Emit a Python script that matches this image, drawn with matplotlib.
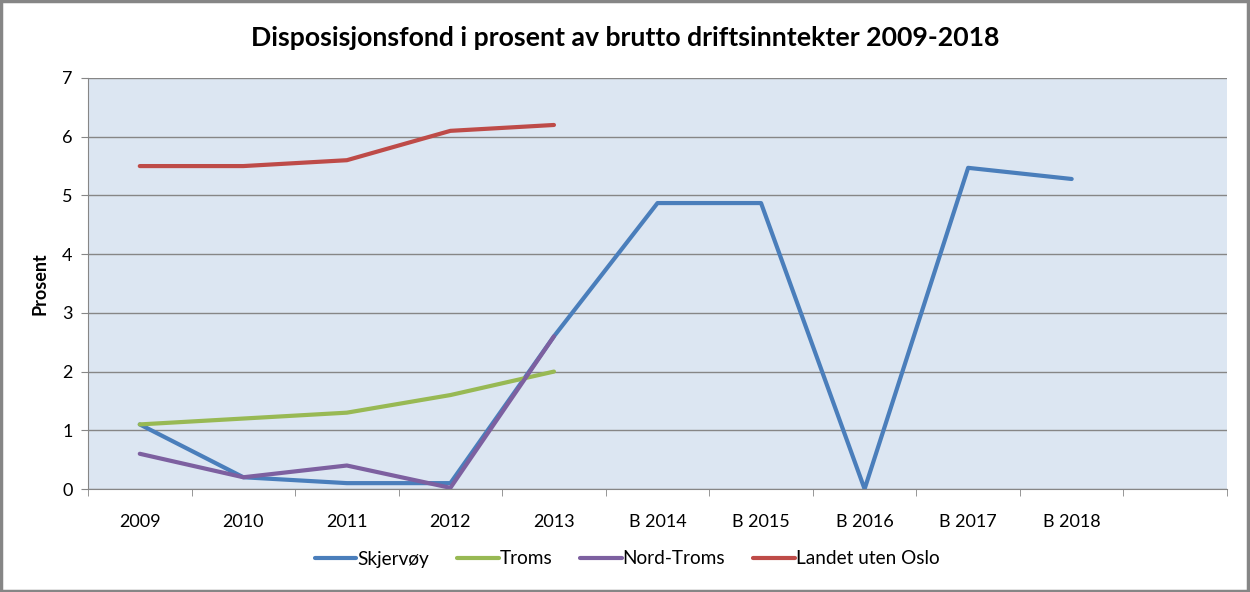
import matplotlib

matplotlib.use("Agg")
import matplotlib.pyplot as plt
import numpy as np

# ---- data ----
categories = ["2009", "2010", "2011", "2012", "2013",
              "B 2014", "B 2015", "B 2016", "B 2017", "B 2018"]
skjervoy = [1.1, 0.2, 0.1, 0.1, 2.6, 4.87, 4.87, 0.0, 5.47, 5.28]
troms = [1.1, 1.2, 1.3, 1.6, 2.0]
nord_troms = [0.6, 0.2, 0.4, 0.02, 2.6]
landet = [5.5, 5.5, 5.6, 6.1, 6.2]

series = [
    ("Skjervøy", skjervoy, "#4a7ebb"),
    ("Troms", troms, "#98b954"),
    ("Nord-Troms", nord_troms, "#7d60a0"),
    ("Landet uten Oslo", landet, "#be4b48"),
]

plt.rcParams["font.family"] = ["Lato", "DejaVu Sans"]

fig = plt.figure(figsize=(12.5, 5.92), dpi=100)
ax = fig.add_axes([88 / 1250, 1 - 489 / 592, (1227 - 88) / 1250, (489 - 78) / 592])
ax.set_facecolor("#dce6f2")

n_slots = len(categories) + 1  # empty slot at the right, as in the source
for name, vals, color in series:
    ax.plot(np.arange(len(vals)), vals, color=color, linewidth=3,
            solid_joinstyle="round", solid_capstyle="round", label=name)

ax.set_xlim(-0.5, n_slots - 0.5)
ax.set_ylim(0, 7)
ax.set_yticks(range(0, 8))
ax.tick_params(axis="y", length=5, color="#868686", labelsize=13, pad=6)
ax.set_xticks(np.arange(len(categories)))
ax.set_xticklabels(categories, fontsize=13)
ax.set_xticks(np.arange(n_slots + 1) - 0.5, minor=True)
ax.tick_params(axis="x", which="major", length=0, pad=18)
ax.tick_params(axis="x", which="minor", length=5, color="#868686")
ax.grid(axis="y", color="#868686", linewidth=1)
ax.set_axisbelow(True)
for side in ("top", "right"):
    ax.spines[side].set_visible(False)
for side in ("left", "bottom"):
    ax.spines[side].set_color("#868686")
    ax.spines[side].set_zorder(3)

ax.set_ylabel("Prosent", fontsize=13, fontweight="bold", labelpad=10)
fig.text(0.5, 1 - 38 / 592, "Disposisjonsfond i prosent av brutto driftsinntekter 2009-2018",
         ha="center", va="center", fontsize=19.2, fontweight="bold")

fig.legend(loc="center", bbox_to_anchor=(627 / 1250, 1 - 559 / 592), ncol=4,
           frameon=False, fontsize=13.7, handlelength=2.2, handletextpad=0.05,
           columnspacing=1.45)

# outer frame like the exported chart
fig.patches.append(plt.Rectangle((0.001, 0.002), 0.997, 0.996, transform=fig.transFigure,
                                 fill=False, edgecolor="#868686", linewidth=2.5))

fig.savefig("out.png", dpi=100)
